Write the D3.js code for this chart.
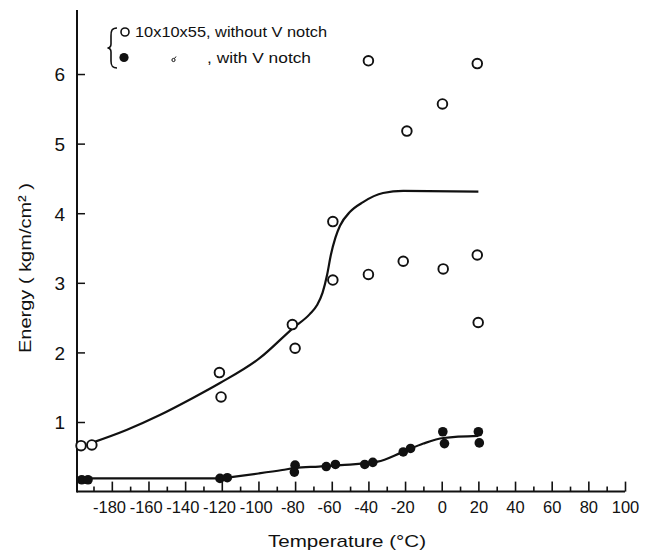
<!DOCTYPE html>
<html>
<head>
<meta charset="utf-8">
<script src="https://cdn.jsdelivr.net/npm/d3@7"></script>
<style>
  html, body { margin: 0; padding: 0; background: #fff; }
  svg { display: block; }
  text { font-family: "Liberation Sans", Arial, sans-serif; fill: #111; }
</style>
</head>
<body>
<svg id="chart" width="663" height="552"></svg>
<script>
// ---- data ----
// Open circles: 10x10x55, without V notch
const openTemp   = [-196.8, -190.9, -121.3, -120.4, -81.5, -80.0, -59.4, -59.4, -40.0, -40.0, -19.0, -21.0, 0.4, 0.8, 19.4, 19.4, 19.9];
const openEnergy = [0.66, 0.67, 1.71, 1.36, 2.40, 2.06, 3.88, 3.04, 6.19, 3.12, 5.18, 3.31, 5.57, 3.20, 6.15, 3.40, 2.43];
// Filled circles: with V notch
const notchTemp   = [-196.4, -193.0, -121.0, -117.0, -80.0, -80.4, -63.0, -58.0, -42.0, -37.6, -21.0, -17.0, 0.6, 1.5, 20.0, 20.5];
const notchEnergy = [0.17, 0.17, 0.19, 0.20, 0.38, 0.28, 0.36, 0.39, 0.39, 0.42, 0.57, 0.62, 0.86, 0.69, 0.86, 0.70];
// Hand-drawn trend curves
const upperCurveTemp   = [-191, -172, -153.8, -135.8, -121, -99.2, -81.1, -72, -68, -65, -62.5, -60.5, -58, -55.5, -50, -42.9, -32, -21, 20];
const upperCurveEnergy = [0.70, 0.885, 1.10, 1.345, 1.56, 1.92, 2.35, 2.55, 2.68, 2.86, 3.12, 3.40, 3.65, 3.82, 4.02, 4.16, 4.29, 4.32, 4.31];
const lowerCurveTemp   = [-193, -120, -117, -100, -87, -80, -67, -55, -35, -22, -10, 1, 20];
const lowerCurveEnergy = [0.19, 0.19, 0.20, 0.26, 0.31, 0.34, 0.36, 0.38, 0.43, 0.56, 0.69, 0.77, 0.80];
// Ticks
const xMajorTicks = [-180, -160, -140, -120, -100, -80, -60, -40, -20, 0, 20, 40, 60, 80, 100];
const xMinorTicks = [-190, -170, -150, -130, -110, -90, -70, -50, -30, -10, 10, 30, 50, 70, 90];
const yTicks = [1, 2, 3, 4, 5, 6];
const legendLabels = ["10x10x55, without V notch", ", with V notch"];

// ---- scales ----
const svg = d3.select("#chart");
const x = d3.scaleLinear().domain([-199, 100]).range([77, 625]);
const y = d3.scaleLinear().domain([0, 6.92]).range([491.6, 10]);

const ink = "#111";

// ---- axes ----
const xAxisG = svg.append("g").attr("transform", `translate(0,${y(0)})`);
xAxisG.call(d3.axisBottom(x).tickValues(xMajorTicks).tickSize(-10).tickSizeOuter(0)
  .tickFormat(d => d < 0 ? "-" + Math.abs(d) : String(d)));
const xMinorG = svg.append("g").attr("transform", `translate(0,${y(0)})`);
xMinorG.call(d3.axisBottom(x).tickValues(xMinorTicks).tickSize(-5).tickSizeOuter(0).tickFormat(""));
xMinorG.select(".domain").remove();
[xAxisG, xMinorG].forEach(g => {
  g.selectAll(".tick line").attr("stroke", ink).attr("stroke-width", 1.6);
});
xAxisG.select(".domain").attr("stroke", ink).attr("stroke-width", 2).attr("d", `M${x(-199)},0H${x(100)}`);
xAxisG.selectAll(".tick text")
  .attr("y", 0).attr("dy", "21px")
  .attr("dx", d => d < 0 ? "-2.8px" : "0")
  .style("font-size", "16.5px").style("fill", ink);

const yAxisG = svg.append("g").attr("transform", `translate(${x(-199)},0)`);
yAxisG.call(d3.axisLeft(y).tickValues(yTicks).tickSize(-8).tickSizeOuter(0).tickFormat(d3.format("d")));
yAxisG.select(".domain").attr("stroke", ink).attr("stroke-width", 2).attr("d", `M0,${y(6.92)}V${y(0) + 1}`);
yAxisG.selectAll(".tick line").attr("stroke", ink).attr("stroke-width", 1.5);
yAxisG.selectAll(".tick text").attr("x", -12).attr("dy", "0.36em").style("font-size", "19px").style("fill", ink);

// ---- axis titles ----
svg.append("text").attr("x", 347).attr("y", 547).attr("text-anchor", "middle")
  .style("font-size", "17px").attr("textLength", 158).attr("lengthAdjust", "spacingAndGlyphs")
  .text("Temperature (°C)");
svg.append("text").attr("transform", "translate(31,268) rotate(-90)").attr("text-anchor", "middle")
  .style("font-size", "17px").attr("textLength", 170).attr("lengthAdjust", "spacingAndGlyphs")
  .text("Energy ( kgm/cm² )");

// ---- curves ----
const line = d3.line().x(d => x(d[0])).y(d => y(d[1])).curve(d3.curveMonotoneX);
svg.append("path").datum(d3.zip(upperCurveTemp, upperCurveEnergy))
  .attr("d", line).attr("fill", "none").attr("stroke", ink).attr("stroke-width", 2.2);
svg.append("path").datum(d3.zip(lowerCurveTemp, lowerCurveEnergy))
  .attr("d", line).attr("fill", "none").attr("stroke", ink).attr("stroke-width", 2.2);

// ---- points ----
svg.append("g").selectAll("circle").data(d3.zip(openTemp, openEnergy)).join("circle")
  .attr("cx", d => x(d[0])).attr("cy", d => y(d[1])).attr("r", 4.8)
  .attr("fill", "#fff").attr("stroke", ink).attr("stroke-width", 1.9);
svg.append("g").selectAll("circle").data(d3.zip(notchTemp, notchEnergy)).join("circle")
  .attr("cx", d => x(d[0])).attr("cy", d => y(d[1])).attr("r", 4.8)
  .attr("fill", ink);

// ---- legend ----
const lg = svg.append("g");
lg.append("path")
  .attr("d", "M117,28 C111.5,28 111,31 111,36 L111,44 C111,46.5 110,47.8 107.5,48 C110,48.2 111,49.5 111,52 L111,61 C111,65.5 112,68 117,68")
  .attr("fill", "none").attr("stroke", ink).attr("stroke-width", 1.6);
lg.append("circle").attr("cx", 125).attr("cy", 32).attr("r", 4).attr("fill", "#fff").attr("stroke", ink).attr("stroke-width", 1.6);
lg.append("circle").attr("cx", 124).attr("cy", 57.5).attr("r", 4.6).attr("fill", ink);
lg.append("text").attr("x", 135).attr("y", 37).style("font-size", "14.5px")
  .attr("textLength", 192).attr("lengthAdjust", "spacingAndGlyphs").text(legendLabels[0]);
// ditto mark
lg.append("circle").attr("cx", 173.5).attr("cy", 60).attr("r", 1.6).attr("fill", "none").attr("stroke", ink).attr("stroke-width", 1);
lg.append("path").attr("d", "M174.5,58.5 L176,56.5").attr("stroke", ink).attr("stroke-width", 1);
lg.append("text").attr("x", 207).attr("y", 63).style("font-size", "14.5px")
  .attr("textLength", 104).attr("lengthAdjust", "spacingAndGlyphs").text(legendLabels[1]);
</script>
</body>
</html>
